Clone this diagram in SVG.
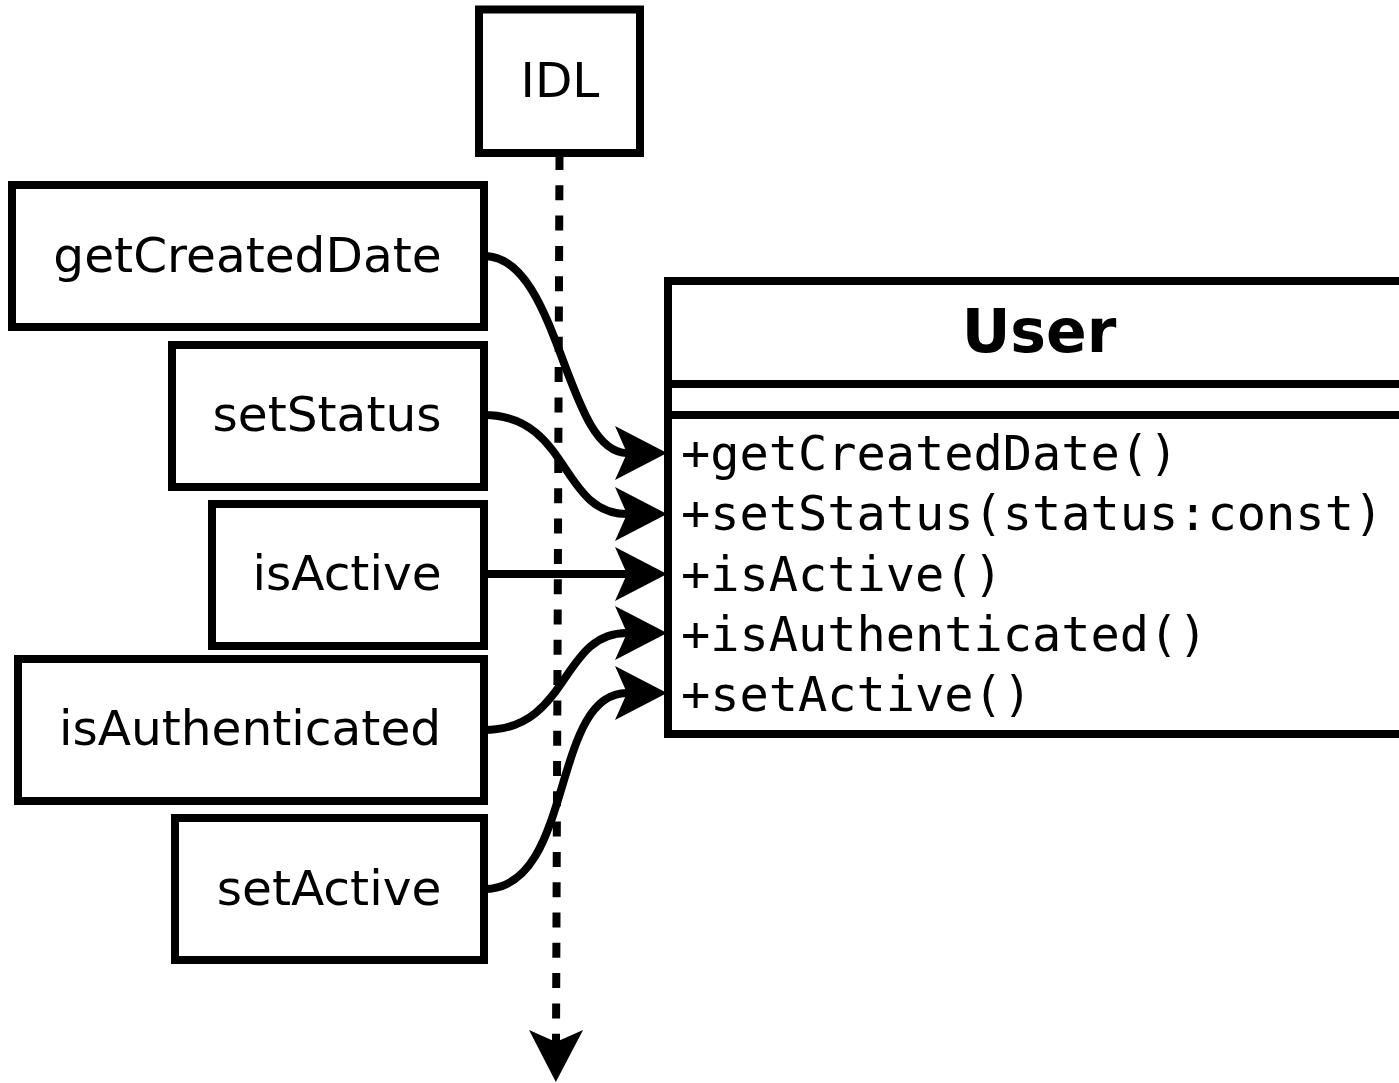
<svg xmlns="http://www.w3.org/2000/svg" width="1399" height="1083" viewBox="0 0 1399 1083">
  <style>
    .box { fill: #ffffff; stroke: #000000; stroke-width: 8; }
    .label { font-family: "DejaVu Sans", sans-serif; font-size: 48.6px; fill: #000000; text-anchor: middle; }
    .title { font-family: "DejaVu Sans", sans-serif; font-size: 60px; font-weight: bold; fill: #000000; text-anchor: middle; }
    .method { font-family: "DejaVu Sans Mono", monospace; font-size: 48.6px; fill: #000000; }
    .edge { fill: none; stroke: #000000; stroke-width: 8; }
    .dashed { fill: none; stroke: #000000; stroke-width: 8; stroke-dasharray: 15 15.3; }
  </style>
  <defs>
    <!-- classic notched arrowhead; the path ends at the notch -->
    <marker id="arrow" markerUnits="userSpaceOnUse" viewBox="-14 -30 58 60" refX="0" refY="0" markerWidth="58" markerHeight="60" orient="auto" overflow="visible">
      <path d="M40,0 L-12,-27 L0,0 L-12,27 Z" fill="#000000"/>
    </marker>
  </defs>
  <rect width="1399" height="1083" fill="#ffffff"/>

  <g id="connectors">
    <path id="idl-flow" class="dashed" d="M559.5,155 L556,1042" marker-end="url(#arrow)"/>
    <path id="e-getCreatedDate" class="edge" d="M484,256 C560,256 565,453 627,453" marker-end="url(#arrow)"/>
    <path id="e-setStatus" class="edge" d="M484,415 C570,415 560,514 627,514" marker-end="url(#arrow)"/>
    <path id="e-isActive" class="edge" d="M484,574 L627,574" marker-end="url(#arrow)"/>
    <path id="e-isAuthenticated" class="edge" d="M484,730 C570,730 560,633 627,633" marker-end="url(#arrow)"/>
    <path id="e-setActive" class="edge" d="M484,889 C575,889 550,693 627,693" marker-end="url(#arrow)"/>
  </g>

  <g id="idl">
    <rect class="box" x="479" y="9.5" width="161" height="143.5"/>
    <text class="label" x="560" y="97">IDL</text>
  </g>

  <g id="getCreatedDate">
    <rect class="box" x="12" y="185" width="472" height="142"/>
    <text class="label" x="247.5" y="272">getCreatedDate</text>
  </g>

  <g id="setStatus">
    <rect class="box" x="172" y="345" width="312" height="142"/>
    <text class="label" x="327" y="431">setStatus</text>
  </g>

  <g id="isActive">
    <rect class="box" x="212" y="504" width="272" height="142"/>
    <text class="label" x="347" y="590">isActive</text>
  </g>

  <g id="isAuthenticated">
    <rect class="box" x="18" y="659" width="466" height="142"/>
    <text class="label" x="250" y="745">isAuthenticated</text>
  </g>

  <g id="setActive">
    <rect class="box" x="175" y="818" width="309" height="142"/>
    <text class="label" x="329" y="905">setActive</text>
  </g>

  <g id="user">
    <rect class="box" x="668" y="281" width="745" height="453"/>
    <line x1="668" y1="384" x2="1413" y2="384" stroke="#000000" stroke-width="8"/>
    <line x1="668" y1="415" x2="1413" y2="415" stroke="#000000" stroke-width="8"/>
    <text class="title" x="1039" y="352">User</text>
    <text class="method" x="681" y="470">+getCreatedDate()</text>
    <text class="method" x="681" y="530">+setStatus(status:const)</text>
    <text class="method" x="681" y="591">+isActive()</text>
    <text class="method" x="681" y="651">+isAuthenticated()</text>
    <text class="method" x="681" y="711">+setActive()</text>
  </g>
</svg>
